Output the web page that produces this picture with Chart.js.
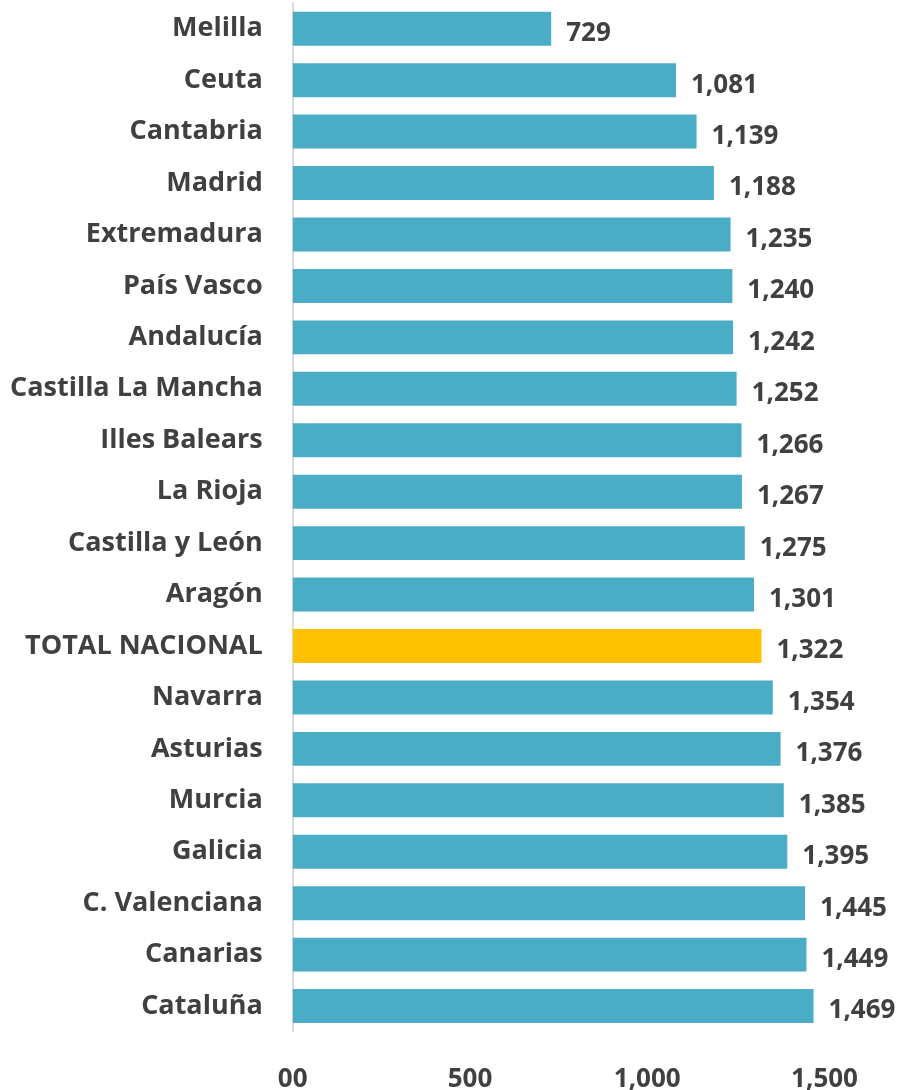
<!DOCTYPE html>
<html>
<head>
<meta charset="utf-8">
<script src="https://cdn.jsdelivr.net/npm/chart.js@4"></script>
<style>
  html, body { margin: 0; padding: 0; background: #fff; }
  #wrap { width: 902px; height: 1090px; }
</style>
</head>
<body>
<div id="wrap"><canvas id="barGraph"></canvas></div>
<script>
var regiones = ['Melilla', 'Ceuta', 'Cantabria', 'Madrid', 'Extremadura', 'País Vasco', 'Andalucía',
  'Castilla La Mancha', 'Illes Balears', 'La Rioja', 'Castilla y León', 'Aragón', 'TOTAL NACIONAL',
  'Navarra', 'Asturias', 'Murcia', 'Galicia', 'C. Valenciana', 'Canarias', 'Cataluña'];
var valores = [729, 1081, 1139, 1188, 1235, 1240, 1242, 1252, 1266, 1267, 1275, 1301, 1322,
  1354, 1376, 1385, 1395, 1445, 1449, 1469];
var tickValues = [0, 500, 1000, 1500];
var tickLabels = ['00', '500', '1,000', '1,500'];

var azul = '#4BACC6';
var oro = '#FFC000';
var gris = '#404040';
var fuente = "'Open Sans', sans-serif";

function getColores(){
  var c = [];
  for (var i = 0; i < regiones.length; i++){
    c.push(regiones[i] == 'TOTAL NACIONAL' ? oro : azul);
  }
  return c;
}

function fmt(n){
  return n.toLocaleString('en-US');
}

// etiquetas de valor a la derecha de cada barra
var etiquetas = {
  id: 'etiquetas',
  afterDatasetsDraw: function(chart){
    var ctx = chart.ctx;
    var meta = chart.getDatasetMeta(0);
    ctx.save();
    ctx.font = 'bold 26px ' + fuente;
    ctx.fillStyle = gris;
    ctx.textAlign = 'left';
    ctx.textBaseline = 'middle';
    for (var i = 0; i < meta.data.length; i++){
      var bar = meta.data[i];
      ctx.fillText(fmt(valores[i]), bar.x + 15, bar.y + 5);
    }
    ctx.restore();
  }
};

function printBarGraph(){
  var ctx = document.getElementById('barGraph').getContext('2d');
  var myChart = new Chart(ctx, {
    type: 'bar',
    data: {
      labels: regiones,
      datasets: [{
        data: valores,
        backgroundColor: getColores(),
        barPercentage: 0.66,
        categoryPercentage: 1
      }]
    },
    options: {
      indexAxis: 'y',
      responsive: true,
      maintainAspectRatio: false,
      animation: false,
      layout: { padding: { top: 3, right: 42, bottom: -29, left: -12 } },
      plugins: {
        legend: { display: false },
        tooltip: { enabled: false }
      },
      scales: {
        x: {
          min: 0,
          max: 1600,
          afterBuildTicks: function(axis){
            axis.ticks = tickValues.map(function(v){ return { value: v }; });
          },
          ticks: {
            color: gris,
            font: { family: fuente, size: 26, weight: 'bold' },
            padding: 24,
            maxRotation: 0,
            autoSkip: false,
            callback: function(v){ return tickLabels[tickValues.indexOf(v)]; }
          },
          grid: { display: false },
          border: { display: false }
        },
        y: {
          afterFit: function(axis){
            // sin margen extra arriba/abajo
            axis.paddingTop = 0;
            axis.paddingBottom = 0;
          },
          ticks: {
            color: gris,
            font: { family: fuente, size: 27, weight: 'bold' },
            padding: 22,
            autoSkip: false
          },
          grid: { display: false },
          border: { display: true, color: '#D9D9D9', width: 2 }
        }
      }
    },
    plugins: [etiquetas]
  });
}

printBarGraph();
</script>
</body>
</html>
